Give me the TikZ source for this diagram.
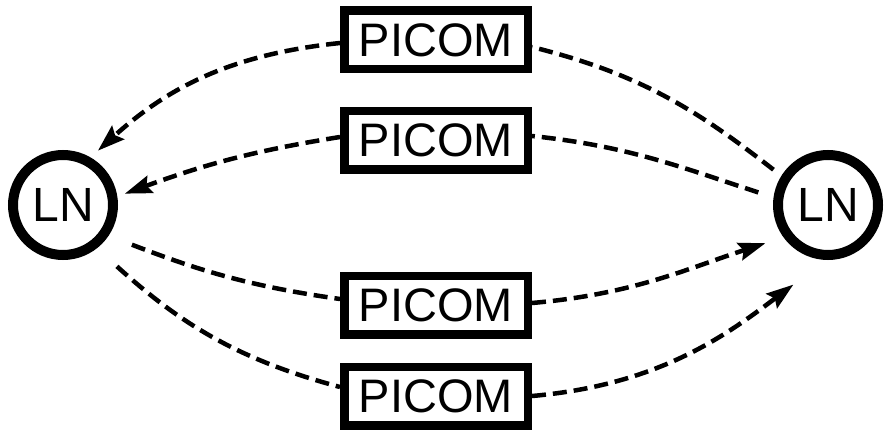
\documentclass[tikz,border=0pt]{standalone}
\usepackage{fontspec}
\setmainfont{Liberation Sans}
\usetikzlibrary{arrows.meta}
\begin{document}
\begin{tikzpicture}[x=1pt,y=-1pt,
  picom/.style={draw, line width=8.5pt, minimum width=183.5pt, minimum height=58.5pt, inner sep=0pt, font=\fontsize{47}{47}\selectfont},
  lnode/.style={draw, circle, line width=10pt, minimum size=100pt, inner sep=0pt, font=\fontsize{48}{48}\selectfont},
  link/.style={line width=4.5pt, dash pattern=on 14pt off 7pt},
  arr/.style={link, -{Stealth[length=27pt,width=18pt,inset=4pt]}}]
\useasboundingbox (0,0) rectangle (886,436);
\node[lnode] (lnL) at (63,205) {LN};
\node[lnode] (lnR) at (828,205) {LN};
\node[picom] (b1) at (436,40) {PICOM};
\node[picom] (b2) at (436,140) {PICOM};
\node[picom] (b3) at (436,305) {PICOM};
\node[picom] (b4) at (436,396) {PICOM};
% left side
\draw[arr, shorten >=10pt] ([yshift=-3pt]b1.west) to[out=186,in=42] (lnL.60);
\draw[arr, shorten >=8pt] ([yshift=3pt]b2.west) to[out=189,in=20] (lnL.9);
\draw[link, shorten <=25pt] (lnL.-34) to[out=-21,in=172] ([yshift=6pt]b3.west);
\draw[link, shorten <=27pt] (lnL.-52) to[out=-42,in=165] ([yshift=9pt]b4.west);
% right side
\draw[link, shorten <=10pt] (lnR.148) to[out=142,in=-14] ([yshift=-7pt]b1.east);
\draw[link, shorten <=16pt] (lnR.172) to[out=162,in=-6] ([yshift=4pt]b2.east);
\draw[arr, shorten >=19pt] ([yshift=2pt]b3.east) to[out=5,in=198] (lnR.216);
\draw[arr, shorten >=41pt] (b4.east) to[out=5,in=217] (lnR.268);
\end{tikzpicture}
\end{document}
